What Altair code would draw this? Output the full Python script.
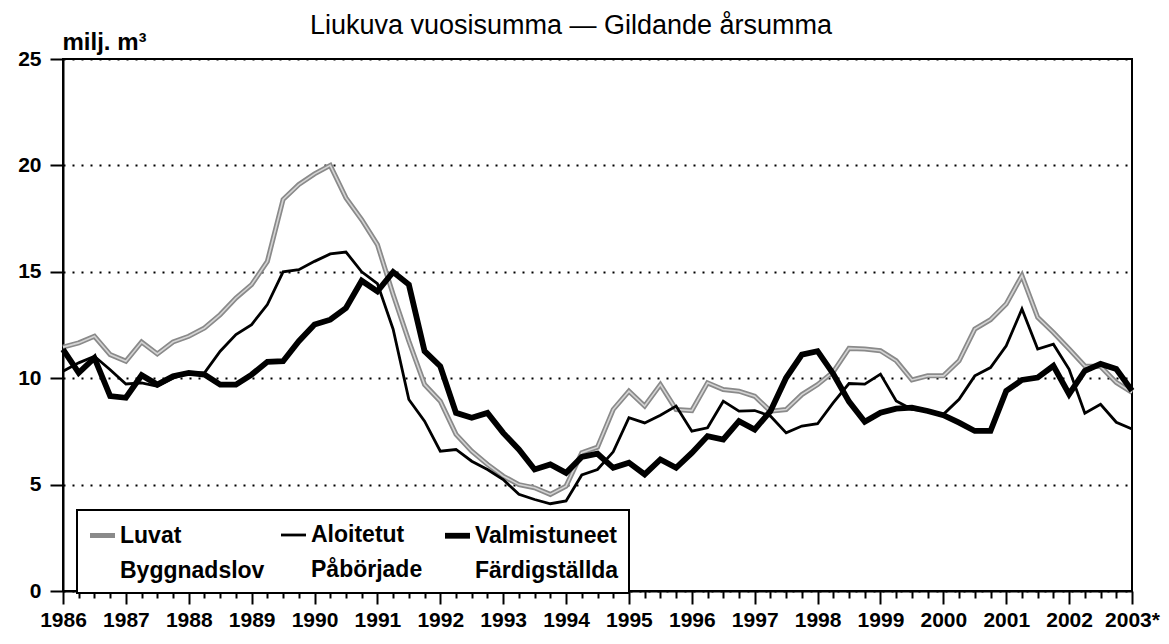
import altair as alt
import pandas as pd

# quarterly time axis (1986 Q1 ... 2003 Q1)
quarters = [1986 + q / 4 for q in range(69)]

luvat = [11.46, 11.66, 11.97, 11.11, 10.8, 11.7, 11.14, 11.7, 11.97, 12.36,
         12.99, 13.77, 14.4, 15.49, 18.4, 19.1, 19.6, 20.0, 18.47, 17.45,
         16.28, 13.93, 11.74, 9.7, 8.92, 7.36, 6.57, 5.95, 5.4, 5.0,
         4.85, 4.54, 4.93, 6.5, 6.76, 8.53, 9.39, 8.69, 9.7, 8.53,
         8.48, 9.78, 9.47, 9.39, 9.15, 8.45, 8.53, 9.23, 9.7, 10.3,
         11.4, 11.37, 11.29, 10.82, 9.92, 10.11, 10.11, 10.82, 12.31, 12.75,
         13.49, 14.82, 12.86, 12.15, 11.37, 10.57, 10.55, 9.8, 9.33]

aloitetut = [10.33, 10.72, 11.03, 10.4, 9.73, 9.78, 9.62, 10.0, 10.25, 10.25,
             11.27, 12.05, 12.52, 13.46, 15.0, 15.1, 15.49, 15.84, 15.93, 15.0,
             14.45, 12.3, 9.0, 7.98, 6.57, 6.65, 6.1, 5.71, 5.24, 4.54,
             4.3, 4.1, 4.23, 5.45, 5.71, 6.54, 8.14, 7.9, 8.26, 8.69,
             7.51, 7.67, 8.92, 8.45, 8.48, 8.22, 7.43, 7.75, 7.86, 8.85,
             9.75, 9.72, 10.19, 8.93, 8.54, 8.46, 8.3, 9.01, 10.11, 10.5,
             11.52, 13.25, 11.37, 11.6, 10.42, 8.35, 8.77, 7.93, 7.61]

valmistuneet = [11.35, 10.25, 10.95, 9.16, 9.08, 10.14, 9.7, 10.09, 10.25, 10.17,
                9.7, 9.7, 10.17, 10.77, 10.8, 11.74, 12.52, 12.75, 13.3, 14.58,
                14.08, 14.99, 14.4, 11.27, 10.56, 8.37, 8.14, 8.37, 7.43, 6.65,
                5.71, 5.95, 5.55, 6.3, 6.45, 5.79, 6.03, 5.48, 6.18, 5.79,
                6.49, 7.28, 7.12, 7.98, 7.59, 8.45, 10.02, 11.11, 11.27, 10.2,
                8.9, 7.95, 8.38, 8.57, 8.62, 8.46, 8.26, 7.91, 7.52, 7.52,
                9.4, 9.92, 10.03, 10.58, 9.25, 10.35, 10.67, 10.43, 9.41]

series_fi = ["Luvat", "Aloitetut", "Valmistuneet"]
series_sv = ["Byggnadslov", "Påbörjade", "Färdigställda"]
y_ticks = [0, 5, 10, 15, 20, 25]

title_text = "Liukuva vuosisumma \u2014 Gildande årsumma"
y_title = "milj. m\u00b3"

rows = []
for name, vals in zip(series_fi, [luvat, aloitetut, valmistuneet]):
    for xq, v in zip(quarters, vals):
        rows.append({"kv": xq, "sarja": name, "arvo": v})
df = pd.DataFrame(rows)

FONT = "Liberation Sans, Arial, sans-serif"

label_expr_legend = " : ".join(
    [f"datum.label === '{fi}' ? ['{fi}', '{sv}']" for fi, sv in zip(series_fi[:-1], series_sv[:-1])]
    + [f"['{series_fi[-1]}', '{series_sv[-1]}']"]
)

LEG = alt.Legend(
    title=None, orient="none", legendX=14, legendY=451,
    direction="horizontal", columns=3, columnPadding=10, gridAlign="each",
    symbolType="stroke", symbolSize=625, symbolFillColor="transparent",
    labelFont=FONT, labelFontSize=23, labelFontWeight="bold", labelColor="black",
    labelLimit=400, labelOffset=2, labelBaseline="middle",
    labelExpr=label_expr_legend,
    strokeColor="black", fillColor="white", padding=10,
)

X = alt.X(
    "kv:Q",
    scale=alt.Scale(domain=[1986, 2003], nice=False, zero=False),
    axis=alt.Axis(
        values=quarters, title=None, grid=False,
        tickSize=alt.ExprRef(expr="datum.value % 1 === 0 ? 13 : 7"),
        labelExpr="datum.value % 1 === 0 ? (datum.value === 2003 ? '2003*' : format(datum.value, 'd')) : ''",
        labelOverlap=False, labelFlush=False, labelPadding=5,
    ),
)
Y = alt.Y(
    "arvo:Q",
    scale=alt.Scale(domain=[0, 25], nice=False),
    axis=alt.Axis(
        values=y_ticks, tickSize=13, labelPadding=9,
        grid=True, gridColor="black", gridDash=[2, 7], gridWidth=2,
        title=y_title, titleAngle=0, titleAlign="left", titleBaseline="alphabetic",
        titleX=-1, titleY=-10,
    ),
)

COLOR = alt.Color("sarja:N", scale=alt.Scale(domain=series_fi, range=["#8a8a8a", "black", "black"]), legend=LEG)
SW = alt.StrokeWidth("sarja:N", scale=alt.Scale(type="ordinal", domain=series_fi, range=[5, 2.8, 5.8]), legend=LEG)

base = alt.Chart(df).encode(x=X, y=Y)

gray_outer = base.transform_filter(alt.datum.sarja == series_fi[0]).mark_line().encode(color=COLOR, strokeWidth=SW)
gray_inner = base.transform_filter(alt.datum.sarja == series_fi[0]).mark_line().encode(
    color=alt.value("#d4d4d4"), strokeWidth=alt.value(1.6))
thin = base.transform_filter(alt.datum.sarja == series_fi[1]).mark_line().encode(color=COLOR, strokeWidth=SW)
thick = base.transform_filter(alt.datum.sarja == series_fi[2]).mark_line().encode(color=COLOR, strokeWidth=SW)

title = alt.Chart(pd.DataFrame({"t": [title_text]})).mark_text(
    font=FONT, fontSize=27, fontWeight="normal", align="center", baseline="alphabetic", color="black"
).encode(text="t:N", x=alt.value(508), y=alt.value(-25))

chart = (
    alt.layer(gray_outer, gray_inner, thin, thick, title)
    .properties(
        width=1069, height=532,
        padding={"left": 55, "top": 51, "right": 29, "bottom": 45},
        autosize=alt.AutoSizeParams(type="none"),
        background="white",
    )
    .configure(style={"guide-label": {"lineHeight": 35}})
    .configure_axis(
        domainColor="black", domainWidth=2, tickColor="black", tickWidth=2,
        labelFont=FONT, labelFontSize=21, labelFontWeight="bold", labelColor="black",
        titleFont=FONT, titleFontSize=24, titleFontWeight="bold", titleColor="black",
    )
    .configure_legend(strokeWidth=2)
    .configure_view(stroke="black", strokeWidth=2)
)

chart.save("out.html", embed_options={"renderer": "svg", "actions": False})
